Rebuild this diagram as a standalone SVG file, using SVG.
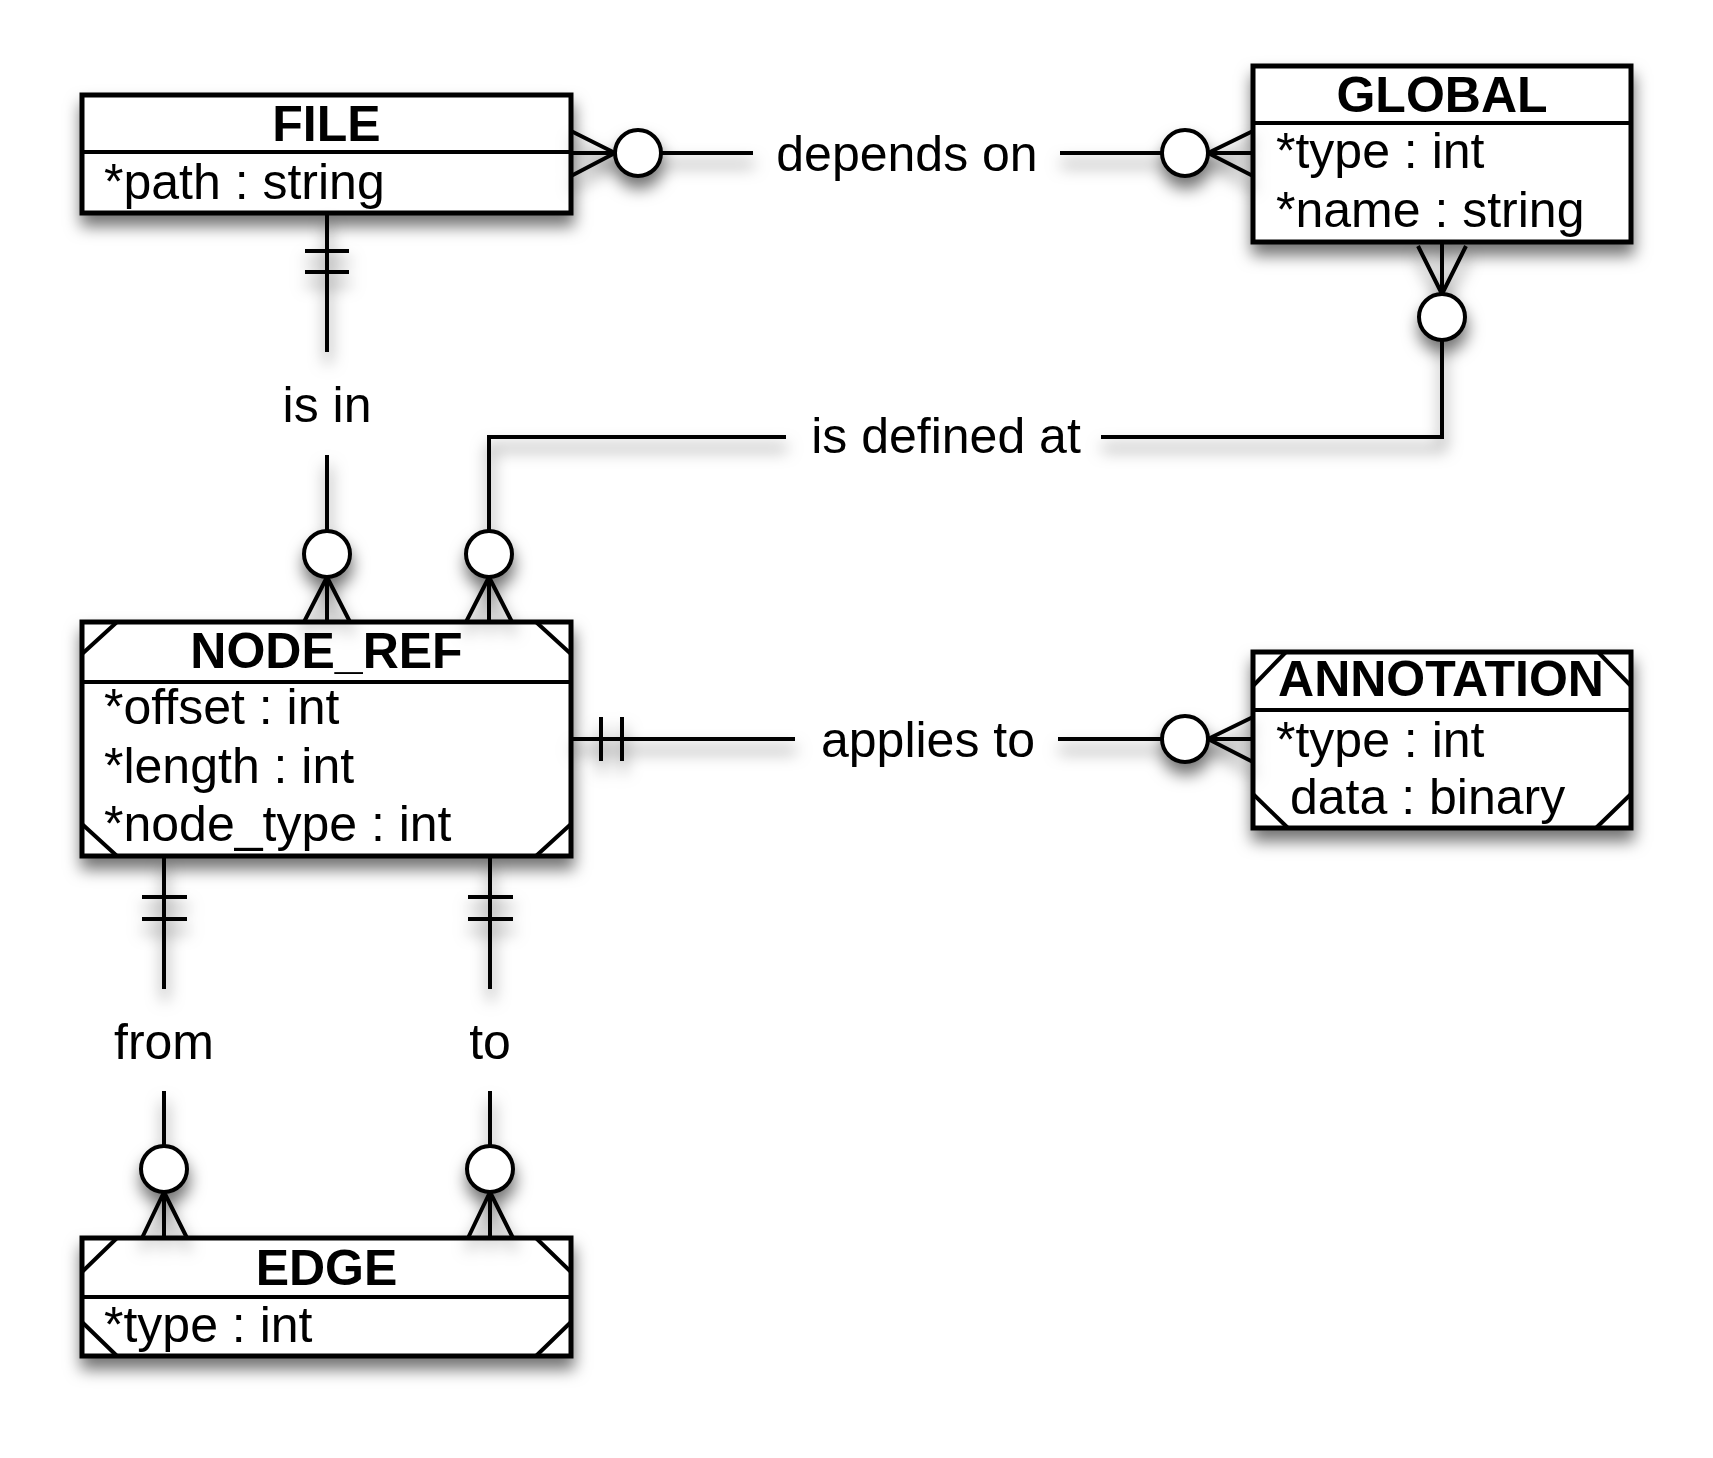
<svg xmlns="http://www.w3.org/2000/svg" width="1713" height="1458" viewBox="0 0 1713 1458">
<defs>
<filter id="sh" filterUnits="userSpaceOnUse" x="0" y="0" width="1713" height="1458">
<feDropShadow dx="1" dy="11" stdDeviation="8" flood-color="#000" flood-opacity="0.55"/>
</filter>
</defs>
<style>
.box{fill:#fff;stroke:#000;stroke-width:5}
.div{stroke:#000;stroke-width:4;fill:none}
.ln{stroke:#000;stroke-width:4;fill:none}
.circ{fill:#fff;stroke:#000;stroke-width:4}
.t{font-family:"Liberation Sans",Arial,Helvetica,sans-serif;font-size:50px;font-weight:bold;text-anchor:middle;fill:#000}
.a{font-family:"Liberation Sans",Arial,Helvetica,sans-serif;font-size:50px;fill:#000}
.l{font-family:"Liberation Sans",Arial,Helvetica,sans-serif;font-size:50px;text-anchor:middle;fill:#000}
</style>
<rect width="1713" height="1458" fill="#fff"/>

<g id="FILE">
<rect class="box" x="82" y="95" width="489" height="118" filter="url(#sh)"/>
<line class="div" x1="82" y1="152" x2="571" y2="152"/>
<text class="t" x="326.5" y="141">FILE</text>
<text class="a" x="104" y="199">*path : string</text>
</g>

<g id="GLOBAL">
<rect class="box" x="1253" y="66" width="378" height="176" filter="url(#sh)"/>
<line class="div" x1="1253" y1="123" x2="1631" y2="123"/>
<text class="t" x="1442" y="112">GLOBAL</text>
<text class="a" x="1276" y="168">*type : int</text>
<text class="a" x="1276" y="227">*name : string</text>
</g>

<g id="NODE_REF">
<rect class="box" x="82" y="622" width="489" height="234" filter="url(#sh)"/>
<line class="div" x1="82" y1="682" x2="571" y2="682"/>
<path class="div" d="M82 654L117 622M536 622L571 654M82 824L117 856M536 856L571 824"/>
<text class="t" x="326.5" y="668">NODE_REF</text>
<text class="a" x="104" y="724">*offset : int</text>
<text class="a" x="104" y="783">*length : int</text>
<text class="a" x="104" y="841">*node_type : int</text>
</g>

<g id="ANNOTATION">
<rect class="box" x="1253" y="652" width="378" height="176" filter="url(#sh)"/>
<line class="div" x1="1253" y1="710" x2="1631" y2="710"/>
<path class="div" d="M1253 686L1286 652M1598 652L1631 686M1253 794L1288 828M1596 828L1631 794"/>
<text class="t" x="1441" y="696">ANNOTATION</text>
<text class="a" x="1276" y="757">*type : int</text>
<text class="a" x="1290" y="814">data : binary</text>
</g>

<g id="EDGE">
<rect class="box" x="82" y="1238" width="489" height="118" filter="url(#sh)"/>
<line class="div" x1="82" y1="1297" x2="571" y2="1297"/>
<path class="div" d="M82 1272L117 1238M536 1238L571 1272M82 1322L117 1356M536 1356L571 1322"/>
<text class="t" x="326.5" y="1285">EDGE</text>
<text class="a" x="104" y="1342">*type : int</text>
</g>

<g id="connectors">
<g filter="url(#sh)">
<!-- depends on -->
<path class="ln" d="M571 131L615 153M571 176L615 153M571 153L615 153"/>
<circle class="circ" cx="638" cy="153" r="23"/>
<path class="ln" d="M661 153H753M1060 153H1162"/>
<circle class="circ" cx="1185" cy="153" r="23"/>
<path class="ln" d="M1208 153L1253 131M1208 153L1253 176M1208 153H1253"/>
<!-- is in -->
<path class="ln" d="M327 213V352M305 251H349M305 272H349M327 455V531"/>
<circle class="circ" cx="327" cy="554" r="23"/>
<path class="ln" d="M327 577L304 622M327 577L350 622M327 577V622"/>
<!-- is defined at -->
<path class="ln" d="M489 531V437H786M1101 437H1442V340"/>
<circle class="circ" cx="489" cy="554" r="23"/>
<path class="ln" d="M489 577L466 622M489 577L512 622M489 577V622"/>
<circle class="circ" cx="1442" cy="317" r="23"/>
<path class="ln" d="M1442 294L1418 246M1442 294L1466 246M1442 294V242"/>
<!-- applies to -->
<path class="ln" d="M571 739H795M601 717V761M622 717V761M1058 739H1162"/>
<circle class="circ" cx="1185" cy="739" r="23"/>
<path class="ln" d="M1208 739L1253 717M1208 739L1253 762M1208 739H1253"/>
<!-- from -->
<path class="ln" d="M164 856V989M142 897H187M142 919H187M164 1091V1146"/>
<circle class="circ" cx="164" cy="1169" r="23"/>
<path class="ln" d="M164 1192L142 1238M164 1192L187 1238M164 1192V1238"/>
<!-- to -->
<path class="ln" d="M490 856V989M468 897H513M468 919H513M490 1091V1146"/>
<circle class="circ" cx="490" cy="1169" r="23"/>
<path class="ln" d="M490 1192L468 1238M490 1192L513 1238M490 1192V1238"/>
</g>
<text class="l" x="907" y="171">depends on</text>
<text class="l" x="327" y="422">is in</text>
<text class="l" x="946" y="453">is defined at</text>
<text class="l" x="928" y="757">applies to</text>
<text class="l" x="164" y="1059">from</text>
<text class="l" x="490" y="1059">to</text>
</g>
</svg>
